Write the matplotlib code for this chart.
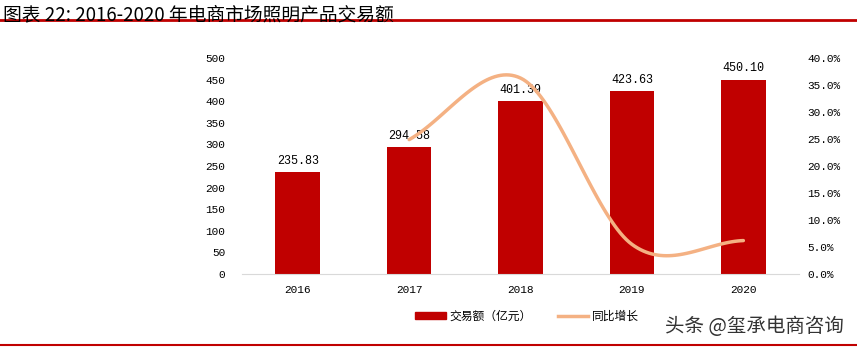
import numpy as np
import matplotlib
matplotlib.use("Agg")
import matplotlib.pyplot as plt
from matplotlib.lines import Line2D
from matplotlib.patches import Patch

plt.rcParams['font.family'] = ['Noto Sans CJK SC', 'DejaVu Sans']

years = ["2016", "2017", "2018", "2019", "2020"]
volume = [235.83, 294.58, 401.39, 423.63, 450.10]
growth_years = ["2017", "2018", "2019", "2020"]
growth = [24.9, 36.3, 5.5, 6.2]

bar_color = "#c00000"
line_color = "#f4b183"
mono = ["Liberation Mono", "DejaVu Sans Mono"]


def catmull_rom(xs, ys, n=40):
    xs = np.asarray(xs, float)
    ys = np.asarray(ys, float)
    px = np.concatenate([[2 * xs[0] - xs[1]], xs, [2 * xs[-1] - xs[-2]]])
    py = np.concatenate([[2 * ys[0] - ys[1]], ys, [2 * ys[-1] - ys[-2]]])
    out_x, out_y = [], []
    for i in range(1, len(px) - 2):
        t = np.linspace(0, 1, n)
        for arr, out in ((px, out_x), (py, out_y)):
            p0, p1, p2, p3 = arr[i - 1], arr[i], arr[i + 1], arr[i + 2]
            c1 = p1 + (p2 - p0) / 6
            c2 = p2 - (p3 - p1) / 6
            out.extend((1 - t) ** 3 * p1 + 3 * (1 - t) ** 2 * t * c1
                       + 3 * (1 - t) * t ** 2 * c2 + t ** 3 * p2)
    return np.array(out_x), np.array(out_y)


fig = plt.figure(figsize=(8.57, 3.5), dpi=100)
ax = fig.add_axes([0.2824, 0.217, 0.65, 0.617])
x = np.arange(len(years))
ax.bar(x, volume, width=0.4, color=bar_color, zorder=2)
for xi, v in zip(x, volume):
    ax.text(xi, v + 12, f"{v:.2f}", ha="center", va="bottom", fontsize=8.5,
            family=mono, color="black")

ax.set_xlim(-0.5, len(years) - 0.5)
ax.set_ylim(0, 500)
ax.set_yticks(range(0, 501, 50))
ax.set_xticks(x)
ax.set_xticklabels(years, family=mono)
ax.set_yticklabels([str(t) for t in range(0, 501, 50)], family=mono)
for s in ["top", "right", "left"]:
    ax.spines[s].set_visible(False)
ax.spines["bottom"].set_color("#d9d9d9")
ax.tick_params(axis="both", length=0, labelsize=8, pad=8)
ax.tick_params(axis="y", pad=12)

ax2 = ax.twinx()
gx = [years.index(y) for y in growth_years]
sx, sy = catmull_rom(gx, growth)
ax2.plot(sx, sy, color=line_color, lw=2.5, solid_capstyle="round", zorder=3)
ax2.set_ylim(0, 40)
ax2.set_yticks(range(0, 41, 5))
ax2.set_yticklabels([f"{t:.1f}%" for t in range(0, 41, 5)], family=mono)
for s in ["top", "right", "left", "bottom"]:
    ax2.spines[s].set_visible(False)
ax2.tick_params(axis="y", length=0, labelsize=8, pad=6)

handles = [Patch(color=bar_color), Line2D([], [], color=line_color, lw=2.5)]
fig.legend(handles, ["交易额（亿元）", "同比增长"], loc="center",
           bbox_to_anchor=(0.615, 0.097), ncol=2, frameon=False, fontsize=8.5,
           handlelength=2.6, handleheight=0.6, columnspacing=2.2, handletextpad=0.3)

fig.text(0.003, 0.958, "图表 22: 2016-2020 年电商市场照明产品交易额", fontsize=13.5,
         ha="left", va="center", family=["Noto Sans CJK SC"] + mono)
fig.add_artist(Line2D([0, 1], [0.944, 0.944], color=bar_color, lw=2,
                      transform=fig.transFigure))
fig.add_artist(Line2D([0, 1], [0.014, 0.014], color=bar_color, lw=1.5,
                      transform=fig.transFigure))
fig.text(0.985, 0.068, "头条 @玺承电商咨询", fontsize=14, ha="right", va="center",
         color="#333333")

fig.savefig("out.png", dpi=100)
